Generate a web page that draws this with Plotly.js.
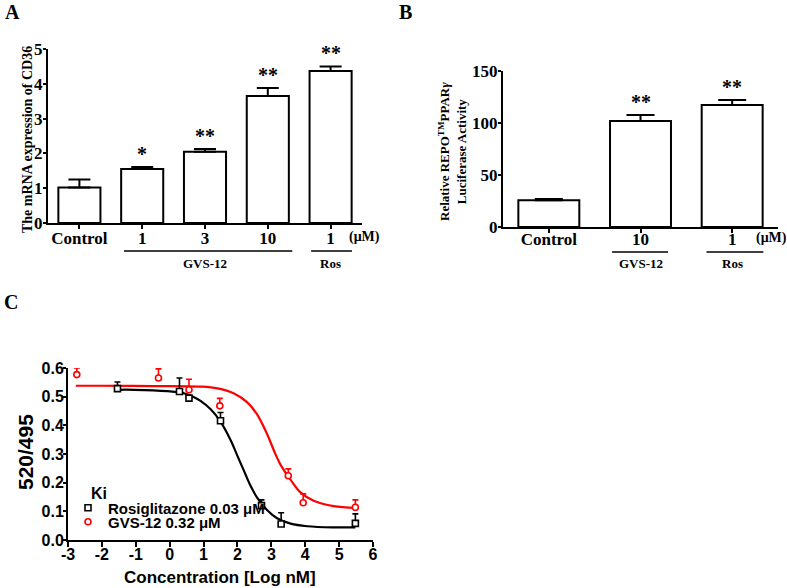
<!DOCTYPE html>
<html><head><meta charset="utf-8">
<script src="https://cdn.plot.ly/plotly-3.0.1.min.js"></script>
<style>html,body{margin:0;padding:0;background:#fff}#chart{width:787px;height:588px}</style>
</head><body><div id="chart"></div>
<script>
// ---------- Panel A : CD36 mRNA ----------
const aLabels = ["Control", "1", "3", "10", "1"];
const aValues = [1.02, 1.55, 2.05, 3.65, 4.37];
const aErrors = [0.23, 0.06, 0.08, 0.23, 0.13];
const aStars  = ["", "*", "**", "**", "**"];
// ---------- Panel B : luciferase ----------
const bLabels = ["Control", "10", "1"];
const bValues = [25.7, 102, 117.2];
const bErrors = [1.3, 5.6, 4.8];
const bStars  = ["", "**", "**"];
// ---------- Panel C : competition binding ----------
const rosiX   = [-1.54, 0.29, 0.57, 1.50, 2.71, 3.29, 5.48];
const rosiY   = [0.528, 0.518, 0.495, 0.416, 0.120, 0.056, 0.058];
const rosiErr = [0.023, 0.047, NaN, 0.029, 0.020, 0.039, 0.033];
const gvsX    = [-2.74, -0.33, 0.57, 1.48, 3.50, 3.94, 5.48];
const gvsY    = [0.577, 0.565, 0.524, 0.468, 0.224, 0.130, 0.114];
const gvsErr  = [0.023, 0.032, 0.037, 0.026, 0.024, 0.031, 0.026];
// fitted curves, points
const rosiFitX = [-1.54, -1.05, -0.07, 0.42, 0.72, 0.91, 1.21, 1.50, 1.80, 1.99, 2.19, 2.39, 2.58, 2.88, 3.17, 3.57, 4.06, 4.84, 5.48];
const rosiFitY = [0.524, 0.524, 0.519, 0.512, 0.498, 0.485, 0.456, 0.413, 0.348, 0.296, 0.242, 0.188, 0.148, 0.104, 0.076, 0.057, 0.048, 0.044, 0.044];
const gvsFitX  = [-2.77, -2.03, -0.50, 0.91, 1.41, 1.90, 2.29, 2.58, 2.88, 3.07, 3.27, 3.57, 3.86, 4.25, 4.84, 5.48];
const gvsFitY  = [0.538, 0.538, 0.537, 0.535, 0.529, 0.511, 0.480, 0.438, 0.368, 0.314, 0.263, 0.210, 0.166, 0.137, 0.118, 0.112];
const cTickVals = [-3, -2, -1, 0, 1, 2, 3, 4, 5, 6];
const cTickText = ["-3", "-2", "-1", "0", "1", "2", "3", "4", "5", "6"];

const W = 787, H = 588;
const px = v => v / W;
const py = v => 1 - v / H;
const serif = "Liberation Serif, Times New Roman, serif";
const sans = "Liberation Sans, Arial, sans-serif";
const black = "#000000";
const red = "#ff0000";

const aIdx = aLabels.map((_, i) => i);
const bIdx = bLabels.map((_, i) => i);

const traces = [
  {
    type: "bar", x: aIdx, y: aValues, xaxis: "x", yaxis: "y", width: 0.67,
    marker: {color: "#ffffff", line: {color: black, width: 2}},
    error_y: {type: "data", symmetric: false, array: aErrors, arrayminus: aErrors.map(() => 0),
              color: black, thickness: 2, width: 11},
    showlegend: false
  },
  {
    type: "bar", x: bIdx, y: bValues, xaxis: "x2", yaxis: "y2", width: 0.665,
    marker: {color: "#ffffff", line: {color: black, width: 2}},
    error_y: {type: "data", symmetric: false, array: bErrors, arrayminus: bErrors.map(() => 0),
              color: black, thickness: 2, width: 14},
    showlegend: false
  },
  {
    type: "scatter", mode: "lines", x: rosiFitX, y: rosiFitY, xaxis: "x3", yaxis: "y3",
    line: {color: black, width: 2.2, shape: "spline", smoothing: 1}, showlegend: false
  },
  {
    type: "scatter", mode: "lines", x: gvsFitX, y: gvsFitY, xaxis: "x3", yaxis: "y3",
    line: {color: red, width: 2.2, shape: "spline", smoothing: 1}, showlegend: false
  },
  {
    type: "scatter", mode: "markers", x: rosiX, y: rosiY, xaxis: "x3", yaxis: "y3",
    name: "<b>Rosiglitazone 0.03 μM</b>", legend: "legend",
    marker: {symbol: "square", size: 6, color: "#ffffff", line: {color: black, width: 1.6}},
    error_y: {type: "data", symmetric: false, array: rosiErr, arrayminus: rosiErr.map(() => 0),
              color: black, thickness: 1.6, width: 3},
    cliponaxis: false
  },
  {
    type: "scatter", mode: "markers", x: gvsX, y: gvsY, xaxis: "x3", yaxis: "y3",
    name: "<b>GVS-12 0.32 μM</b>", legend: "legend2",
    marker: {symbol: "circle", size: 6, color: "#ffffff", line: {color: red, width: 1.6}},
    error_y: {type: "data", symmetric: false, array: gvsErr, arrayminus: gvsErr.map(() => 0),
              color: red, thickness: 1.6, width: 3},
    cliponaxis: false
  }
];

const baseAxis = {
  showline: true, linecolor: black, linewidth: 2, showgrid: false, zeroline: false,
  ticks: "outside", tickcolor: black, tickwidth: 2, fixedrange: true
};
const serifTick = {family: serif, size: 17, color: black, weight: "bold"};
const sansTick = {family: sans, size: 16, color: black, weight: "bold"};

const layout = {
  width: W, height: H,
  margin: {l: 0, r: 0, t: 0, b: 0},
  paper_bgcolor: "#ffffff", plot_bgcolor: "rgba(0,0,0,0)",
  xaxis: Object.assign({}, baseAxis, {
    domain: [px(48), px(362)], range: [-0.5, 4.5], anchor: "y",
    tickvals: aIdx, ticktext: aLabels, ticklen: 4, tickfont: serifTick, ticklabelstandoff: -5
  }),
  yaxis: Object.assign({}, baseAxis, {
    domain: [py(223), py(49)], range: [0, 5], dtick: 1, anchor: "x",
    ticklen: 3, tickfont: serifTick, ticklabelstandoff: -3
  }),
  xaxis2: Object.assign({}, baseAxis, {
    domain: [px(503), px(778)], range: [-0.5, 2.5], anchor: "y2",
    tickvals: bIdx, ticktext: bLabels, ticklen: 4, tickfont: serifTick, ticklabelstandoff: -8
  }),
  yaxis2: Object.assign({}, baseAxis, {
    domain: [py(227), py(71)], range: [0, 150], dtick: 50, anchor: "x2",
    ticklen: 3, tickfont: serifTick, ticklabelstandoff: -3
  }),
  xaxis3: Object.assign({}, baseAxis, {
    domain: [px(68), px(373)], range: [-3, 6], anchor: "y3",
    tickvals: cTickVals, ticktext: cTickText, ticklen: 5, tickfont: sansTick, ticklabelstandoff: -6
  }),
  yaxis3: Object.assign({}, baseAxis, {
    domain: [py(540), py(368)], range: [0, 0.6], dtick: 0.1, tickformat: ".1f", anchor: "x3",
    ticklen: 3, tickfont: sansTick, ticklabelstandoff: -4
  }),
  legend: {
    x: px(68), y: py(508), xanchor: "left", yanchor: "middle",
    bgcolor: "rgba(0,0,0,0)", borderwidth: 0, itemwidth: 30,
    font: {family: sans, size: 15, color: black}
  },
  legend2: {
    x: px(68), y: py(522), xanchor: "left", yanchor: "middle",
    bgcolor: "rgba(0,0,0,0)", borderwidth: 0, itemwidth: 30,
    font: {family: sans, size: 15, color: black}
  },
  shapes: [],
  annotations: []
};

const ann = layout.annotations;
const add = o => ann.push(Object.assign({showarrow: false, xanchor: "center", yanchor: "middle"}, o));

// panel letters
add({text: "<b>A</b>", xref: "paper", yref: "paper", x: px(12), y: py(12), font: {family: serif, size: 20, color: black}});
add({text: "<b>B</b>", xref: "paper", yref: "paper", x: px(405), y: py(12), font: {family: serif, size: 20, color: black}});
add({text: "<b>C</b>", xref: "paper", yref: "paper", x: px(11), y: py(302), font: {family: serif, size: 20, color: black}});

// axis titles
add({text: "<b>The mRNA expression of CD36</b>", xref: "paper", yref: "paper", x: px(27), y: py(140),
     textangle: -90, font: {family: serif, size: 14, color: black}});
add({text: "<b>Relative REPO<sup>TM</sup>PPAR<i>γ</i></b><br><b>Luciferase Activity</b>", xref: "paper", yref: "paper",
     x: px(452), y: py(152), textangle: -90, font: {family: serif, size: 13, color: black}});
add({text: "<b>520/495</b>", xref: "paper", yref: "paper", x: px(25), y: py(452),
     textangle: -90, font: {family: sans, size: 21, color: black}});
add({text: "<b>Concentration [Log nM]</b>", xref: "paper", yref: "paper", x: px(220), y: py(577),
     font: {family: sans, size: 17, color: black}});
add({text: "<b>Ki</b>", xref: "paper", yref: "paper", x: px(89), y: py(493), xanchor: "left",
     font: {family: sans, size: 16, color: black}});

// unit labels
add({text: "<b>(μM)</b>", xref: "paper", yref: "paper", x: px(364), y: py(237), font: {family: serif, size: 14, color: black}});
add({text: "<b>(μM)</b>", xref: "paper", yref: "paper", x: px(771), y: py(238), font: {family: serif, size: 14, color: black}});

// significance stars
aStars.forEach((s, i) => { if (s) add({text: "<b>" + s + "</b>", xref: "x", yref: "y", x: i, y: aValues[i] + aErrors[i],
     yanchor: "bottom", font: {family: serif, size: 20, color: black}}); });
bStars.forEach((s, i) => { if (s) add({text: "<b>" + s + "</b>", xref: "x2", yref: "y2", x: i, y: bValues[i] + bErrors[i],
     yanchor: "bottom", font: {family: serif, size: 20, color: black}}); });

// group brackets
const line = (xref, x0, x1, y) => layout.shapes.push({type: "line", xref: xref, yref: "paper", x0: x0, x1: x1,
     y0: py(y), y1: py(y), line: {color: black, width: 1.5}});
line("x", 0.71, 3.39, 251);
line("x", 3.69, 4.34, 251);
line("x2", 0.69, 1.30, 252);
line("x2", 1.72, 2.34, 252);
add({text: "<b>GVS-12</b>", xref: "x", yref: "paper", x: 2, y: py(263), font: {family: serif, size: 13, color: black}});
add({text: "<b>Ros</b>", xref: "x", yref: "paper", x: 4, y: py(263), font: {family: serif, size: 13, color: black}});
add({text: "<b>GVS-12</b>", xref: "x2", yref: "paper", x: 1, y: py(263), font: {family: serif, size: 13, color: black}});
add({text: "<b>Ros</b>", xref: "x2", yref: "paper", x: 2, y: py(263), font: {family: serif, size: 13, color: black}});

Plotly.newPlot("chart", traces, layout, {staticPlot: true, displayModeBar: false});
</script>
</body></html>
